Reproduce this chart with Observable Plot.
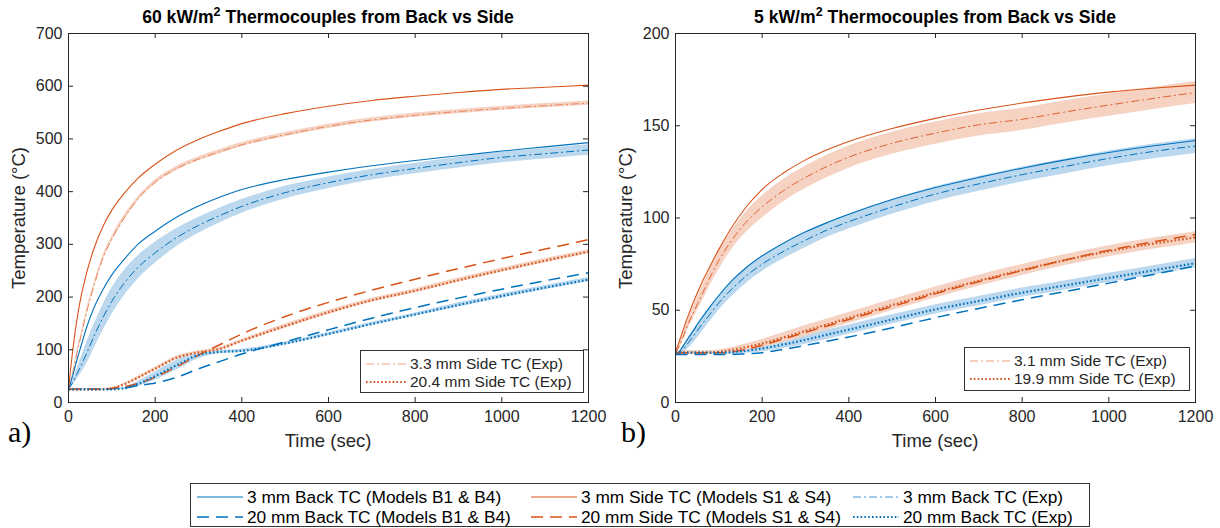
<!DOCTYPE html>
<html>
<head>
<meta charset="utf-8">
<script src="https://cdn.jsdelivr.net/npm/d3@7"></script>
<script src="https://cdn.jsdelivr.net/npm/@observablehq/plot@0.6"></script>
<style>
  body { margin: 0; background: #fff; }
  #root { position: relative; width: 1220px; height: 528px; overflow: hidden;
          font-family: "Liberation Sans", Arial, Helvetica, sans-serif; color: #262626; }
  .abs { position: absolute; white-space: nowrap; }
  .title { font-weight: bold; font-size: 17.6px; color: #000; transform: translateX(-50%); }
  .title sup { font-size: 12.5px; vertical-align: 7px; line-height: 0; }
  .xlab { font-size: 18.5px; transform: translateX(-50%); }
  .ylab { font-size: 18.5px; transform: translate(-50%, -50%) rotate(-90deg); }
  .panel { font-family: "Liberation Serif", "Times New Roman", serif; font-size: 30px; color: #000; }
  .legbox { border: 1px solid #333; background: #fff; box-sizing: border-box; }
  .entry { position: absolute; display: flex; align-items: center; white-space: nowrap; }
  .entry svg { flex: none; margin-right: 3px; }
</style>
</head>
<body>
<div id="root"></div>
<script>
// ---------------- data ----------------
const time = [0, 10, 20, 30, 40, 60, 80, 100, 130, 160, 200, 250, 300, 350, 400, 500, 600, 700, 800, 900, 1000, 1100, 1200];

// (a) 60 kW/m2
const a_back3_model  = [25, 52, 82, 110, 138, 182, 215, 242, 273, 300, 325, 352, 373, 390, 404, 423, 437, 449, 459, 468, 477, 485, 493];
const a_back3_exp    = [25, 38, 55, 72, 90, 128, 162, 192, 228, 256, 284, 313, 336, 355, 372, 398, 417, 432, 444, 455, 465, 472, 479];
const a_back3_lo     = [24, 33, 45, 57, 70, 104, 137, 167, 204, 234, 264, 296, 321, 341, 359, 386, 406, 422, 434, 445, 455, 462, 469];
const a_back3_hi     = [26, 43, 65, 87, 110, 150, 186, 217, 252, 278, 304, 330, 351, 369, 385, 410, 428, 442, 454, 465, 475, 482, 489];
const a_side3_model  = [25, 100, 160, 205, 240, 295, 335, 365, 398, 425, 452, 479, 499, 515, 529, 548, 562, 573, 581, 588, 594, 598, 602];
const a_side3_exp    = [25, 55, 95, 130, 165, 225, 275, 310, 352, 386, 418, 444, 462, 476, 489, 508, 524, 536, 545, 552, 558, 563, 568];
const a_side3_lo     = [24, 51, 90, 125, 160, 220, 270, 305, 347, 382, 414, 440, 458, 472, 485, 504, 520, 532, 541, 548, 554, 559, 564];
const a_side3_hi     = [26, 59, 100, 135, 170, 230, 280, 315, 357, 390, 422, 448, 466, 480, 493, 512, 528, 540, 549, 556, 562, 567, 572];
const a_back20_model = [25, 25, 25, 25, 25, 25, 25, 26, 28, 32, 37, 48, 64, 78, 92, 115, 138, 160, 180, 198, 215, 231, 246];
const a_back20_exp   = [25, 25, 25, 25, 25, 25, 25, 25, 27, 35, 50, 71, 90, 96, 98, 112, 130, 149, 167, 185, 202, 218, 233];
const a_back20_lo    = [24, 24, 24, 24, 24, 24, 24, 24, 25, 30, 42, 62, 83, 93, 95, 109, 127, 146, 164, 181, 198, 214, 229];
const a_back20_hi    = [26, 26, 26, 26, 26, 26, 26, 26, 29, 40, 58, 80, 97, 99, 101, 115, 133, 152, 170, 189, 206, 222, 237];
const a_side20_model = [25, 25, 25, 25, 25, 25, 25, 27, 30, 36, 48, 68, 90, 110, 130, 163, 190, 213, 234, 254, 273, 291, 309];
const a_side20_exp   = [25, 25, 25, 25, 25, 25, 25, 27, 35, 47, 64, 85, 95, 102, 117, 145, 171, 194, 212, 232, 251, 269, 286];
const a_side20_lo    = [24, 24, 24, 24, 24, 24, 24, 26, 33, 44, 61, 82, 92, 99, 114, 141, 167, 190, 208, 228, 247, 265, 282];
const a_side20_hi    = [26, 26, 26, 26, 26, 26, 26, 28, 37, 50, 67, 88, 98, 105, 120, 149, 175, 198, 216, 236, 255, 273, 290];

// (b) 5 kW/m2
const b_back3_model  = [26, 28, 31.5, 35, 38.5, 45.5, 52, 58, 66, 72.5, 79.5, 86.5, 92.5, 97.5, 102, 110, 116.5, 122, 127, 131.5, 135.5, 139, 142];
const b_back3_exp    = [26, 27, 29.5, 32.5, 35.5, 42, 48, 54, 61.5, 68, 75, 82, 88, 93.5, 98, 106, 113, 118.5, 123.5, 128, 132.3, 136, 139];
const b_back3_lo     = [25, 26, 27.5, 29.5, 32, 38, 44, 50, 57.5, 64, 71, 78, 84, 89.5, 94, 102, 109, 114.5, 119.5, 124, 128.3, 132, 135];
const b_back3_hi     = [27, 28, 31.5, 35.5, 39, 46, 52, 58, 65.5, 72, 79, 86, 92, 97.5, 102, 110, 117, 122.5, 127.5, 132, 136.3, 140, 143];
const b_side3_model  = [27, 34, 41, 47.5, 53.5, 64.5, 74, 83, 95, 105, 115.5, 124.5, 131.5, 137, 141.5, 148.5, 154, 158.5, 162.3, 165.5, 168.2, 170.3, 172];
const b_side3_exp    = [27, 31, 37, 43, 48, 58, 68, 77, 88, 97, 106, 115, 122, 128, 133, 140.5, 146, 150.5, 153.5, 157.5, 161.2, 164.7, 168];
const b_side3_lo     = [26, 30, 35, 40.5, 45, 54, 63.5, 72, 83, 91.5, 100, 109, 116, 122, 127, 134.5, 140, 144.5, 147.5, 151.5, 155.2, 158.7, 162];
const b_side3_hi     = [28, 32, 39, 45.5, 51, 62, 72.5, 82, 93, 102.5, 112, 121, 128, 134, 139, 146.5, 152, 156.5, 159.5, 163.5, 167.2, 170.7, 174];
const b_back20_model = [26, 26, 26, 26, 26, 26, 26, 26, 26, 26.3, 27, 28.8, 31, 33.2, 35.5, 40.5, 46, 51, 55.7, 60.2, 64.7, 69.3, 74];
const b_back20_exp   = [27, 27, 27, 27, 27, 27, 27, 27, 27.3, 28, 29.3, 31.5, 34, 36.8, 39.5, 45, 50.5, 55, 59.5, 63.5, 67.5, 71.5, 75.5];
const b_back20_lo    = [26, 26, 26, 26, 26, 26, 26, 26, 26, 26.6, 27.5, 29.3, 31.6, 34.3, 37, 42.5, 48, 52.5, 57, 61, 65, 69, 73];
const b_back20_hi    = [28, 28, 28, 28, 28, 28, 28, 28, 28.6, 29.4, 31.1, 33.7, 36.4, 39.3, 42, 47.5, 53, 57.5, 62, 66, 70, 74, 78];
const b_side20_model = [27, 27, 27, 27, 27, 27, 27, 27, 27.5, 28.7, 31, 34.5, 38, 41.5, 45, 52, 59, 65.5, 71.5, 77.3, 82.5, 87, 91];
const b_side20_exp   = [27, 27, 27, 27, 27, 27, 27, 27.5, 28.5, 29.8, 32, 35.3, 38.8, 42.3, 45.8, 52.8, 59.6, 66, 71.8, 77.2, 82, 86, 89.5];
const b_side20_lo    = [26, 26, 26, 26, 26, 26, 26, 26.5, 27.2, 28, 29.8, 32.6, 35.8, 39.3, 42.8, 49.8, 56.6, 63, 68.8, 74.2, 79, 83, 86.5];
const b_side20_hi    = [28, 28, 28, 28, 28, 28, 28, 28.5, 29.8, 31.6, 34.2, 38, 41.8, 45.3, 48.8, 55.8, 62.6, 69, 74.8, 80.2, 85, 89, 92.5];

const xTicks  = [0, 200, 400, 600, 800, 1000, 1200];
const yTicksA = [0, 100, 200, 300, 400, 500, 600, 700];
const yTicksB = [0, 50, 100, 150, 200];

const titles = ["60 kW/m<sup>2</sup> Thermocouples from Back vs Side", "5 kW/m<sup>2</sup> Thermocouples from Back vs Side"];
const panelTags = ["a)", "b)"];
const innerLegendA = ["3.3 mm Side TC (Exp)", "20.4 mm Side TC (Exp)"];
const innerLegendB = ["3.1 mm Side TC (Exp)", "19.9 mm Side TC (Exp)"];
const bottomLegend = [
  "3 mm Back TC (Models B1 & B4)", "3 mm Side TC (Models S1 & S4)", "3 mm Back TC (Exp)",
  "20 mm Back TC (Models B1 & B4)", "20 mm Side TC (Models S1 & S4)", "20 mm Back TC (Exp)"
];

// ---------------- styles ----------------
const BLUE = "#0072BD", ORANGE = "#D95319";
const BLUE_BAND = "#BBD8EE", ORANGE_BAND = "#F5D2C2";
const S = {
  model3:  {strokeWidth: 1.1},
  model20: {strokeWidth: 1.5, strokeDasharray: "12,7"},
  exp3:    {strokeWidth: 1, strokeDasharray: "8,3,2,3"},
  exp20:   {strokeWidth: 2.2, strokeDasharray: "1.6,2.2"}
};

function panel(cfg) {
  const W = 610, H = 460, mL = 68, mR = 22, mT = 33, mB = 58;
  const band = (lo, hi, fill) => Plot.areaY(time, {x: time, y1: lo, y2: hi, fill, curve: "monotone-x"});
  const line = (y, stroke, st) => Plot.line(time, {x: time, y, stroke, curve: "monotone-x", strokeLinecap: "butt", ...st});
  return Plot.plot({
    width: W, height: H, marginLeft: mL, marginRight: mR, marginTop: mT, marginBottom: mB,
    x: {domain: [0, 1200]},
    y: {domain: cfg.yDomain},
    style: {fontFamily: '"Liberation Sans", Arial, Helvetica, sans-serif', fontSize: "16px", color: "#262626", background: "transparent", overflow: "visible"},
    marks: [
      band(cfg.back3_lo, cfg.back3_hi, BLUE_BAND),
      band(cfg.side3_lo, cfg.side3_hi, ORANGE_BAND),
      band(cfg.back20_lo, cfg.back20_hi, BLUE_BAND),
      band(cfg.side20_lo, cfg.side20_hi, ORANGE_BAND),
      line(cfg.back3_exp, BLUE, S.exp3),
      line(cfg.side3_exp, cfg.side3Color, S.exp3),
      line(cfg.back3_model, BLUE, S.model3),
      line(cfg.side3_model, ORANGE, S.model3),
      line(cfg.back20_model, BLUE, S.model20),
      line(cfg.side20_model, ORANGE, S.model20),
      line(cfg.side20_exp, ORANGE, S.exp20),
      line(cfg.back20_exp, BLUE, S.exp20),
      Plot.ruleX(xTicks, {x: d => d, insetTop: H - mT - mB - 5, stroke: "#262626"}),
      Plot.ruleX(xTicks, {x: d => d, insetBottom: H - mT - mB - 5, stroke: "#262626"}),
      Plot.ruleY(cfg.yTicks, {y: d => d, insetRight: W - mL - mR - 5, stroke: "#262626"}),
      Plot.ruleY(cfg.yTicks, {y: d => d, insetLeft: W - mL - mR - 5, stroke: "#262626"}),
      Plot.axisX({ticks: xTicks, tickSize: 0, tickPadding: 8, label: null, tickFormat: d => String(d), fontSize: 16}),
      Plot.axisY({ticks: cfg.yTicks, tickSize: 0, tickPadding: 6, label: null, tickFormat: d => String(d), fontSize: 16}),
      Plot.frame({stroke: "#262626", strokeWidth: 1})
    ]
  });
}

function sample(style, color, w = 48) {
  const ns = "http://www.w3.org/2000/svg";
  const svg = document.createElementNS(ns, "svg");
  svg.setAttribute("width", w); svg.setAttribute("height", 10);
  const l = document.createElementNS(ns, "line");
  l.setAttribute("x1", 1); l.setAttribute("x2", w - 1); l.setAttribute("y1", 5); l.setAttribute("y2", 5);
  l.setAttribute("stroke", color);
  l.setAttribute("stroke-width", style.strokeWidth);
  if (style.strokeDasharray) l.setAttribute("stroke-dasharray", style.strokeDasharray);
  svg.appendChild(l);
  return svg;
}

function addDiv(cls, html, css) {
  const d = document.createElement("div");
  d.className = "abs " + cls;
  d.innerHTML = html;
  Object.assign(d.style, css);
  root.appendChild(d);
  return d;
}

const root = document.getElementById("root");

const cfgA = {
  yDomain: [0, 700], yTicks: yTicksA, side3Color: "#E9875C",
  back3_model: a_back3_model, back3_exp: a_back3_exp, back3_lo: a_back3_lo, back3_hi: a_back3_hi,
  side3_model: a_side3_model, side3_exp: a_side3_exp, side3_lo: a_side3_lo, side3_hi: a_side3_hi,
  back20_model: a_back20_model, back20_exp: a_back20_exp, back20_lo: a_back20_lo, back20_hi: a_back20_hi,
  side20_model: a_side20_model, side20_exp: a_side20_exp, side20_lo: a_side20_lo, side20_hi: a_side20_hi
};
const cfgB = {
  yDomain: [0, 200], yTicks: yTicksB, side3Color: "#DD6333",
  back3_model: b_back3_model, back3_exp: b_back3_exp, back3_lo: b_back3_lo, back3_hi: b_back3_hi,
  side3_model: b_side3_model, side3_exp: b_side3_exp, side3_lo: b_side3_lo, side3_hi: b_side3_hi,
  back20_model: b_back20_model, back20_exp: b_back20_exp, back20_lo: b_back20_lo, back20_hi: b_back20_hi,
  side20_model: b_side20_model, side20_exp: b_side20_exp, side20_lo: b_side20_lo, side20_hi: b_side20_hi
};

const offsets = [0, 607];
const tagX = [8, 621];
[cfgA, cfgB].forEach((cfg, i) => {
  const svg = panel(cfg);
  svg.style.position = "absolute";
  svg.style.left = offsets[i] + "px";
  svg.style.top = "0px";
  root.appendChild(svg);
  const cx = offsets[i] + 68 + 260;
  addDiv("title", titles[i], {left: cx + "px", top: "7px"});
  addDiv("xlab", "Time (sec)", {left: cx + "px", top: "430px"});
  addDiv("ylab", "Temperature (°C)", {left: (offsets[i] + 19) + "px", top: "218px"});
  addDiv("panel", panelTags[i], {left: tagX[i] + "px", top: "415px"});
});

// inner legends
function innerLegend(labels, box, dashColor) {
  const b = addDiv("legbox", "", {left: box[0] + "px", top: box[1] + "px", width: box[2] + "px", height: box[3] + "px"});
  const rows = [[S.exp3, dashColor], [S.exp20, ORANGE]];
  labels.forEach((lab, k) => {
    const e = document.createElement("div");
    e.className = "entry";
    Object.assign(e.style, {left: "4px", top: (5 + k * 18) + "px", fontSize: "15.5px", lineHeight: "16px"});
    e.appendChild(sample(rows[k][0], rows[k][1], 42));
    const s = document.createElement("span"); s.textContent = lab; e.appendChild(s);
    b.appendChild(e);
  });
}
innerLegend(innerLegendA, [360, 350, 224, 43], "#F2A07C");
innerLegend(innerLegendB, [964, 347, 226, 44], "#F2A07C");

// bottom legend
const lb = addDiv("legbox", "", {left: "190px", top: "483px", width: "900px", height: "44px"});
const bottomStyles = [
  [S.model3, BLUE], [S.model3, ORANGE], [S.exp3, "#3A96D8"],
  [S.model20, BLUE], [S.model20, ORANGE], [S.exp20, BLUE]
];
const colX = [5, 339, 661];
bottomLegend.forEach((lab, k) => {
  const e = document.createElement("div");
  e.className = "entry";
  Object.assign(e.style, {left: colX[k % 3] + "px", top: (4 + Math.floor(k / 3) * 20) + "px", fontSize: "17.3px", lineHeight: "18px", color: "#000"});
  e.appendChild(sample(bottomStyles[k][0], bottomStyles[k][1], 48));
  const s = document.createElement("span"); s.textContent = lab; e.appendChild(s);
  lb.appendChild(e);
});
</script>
</body>
</html>
